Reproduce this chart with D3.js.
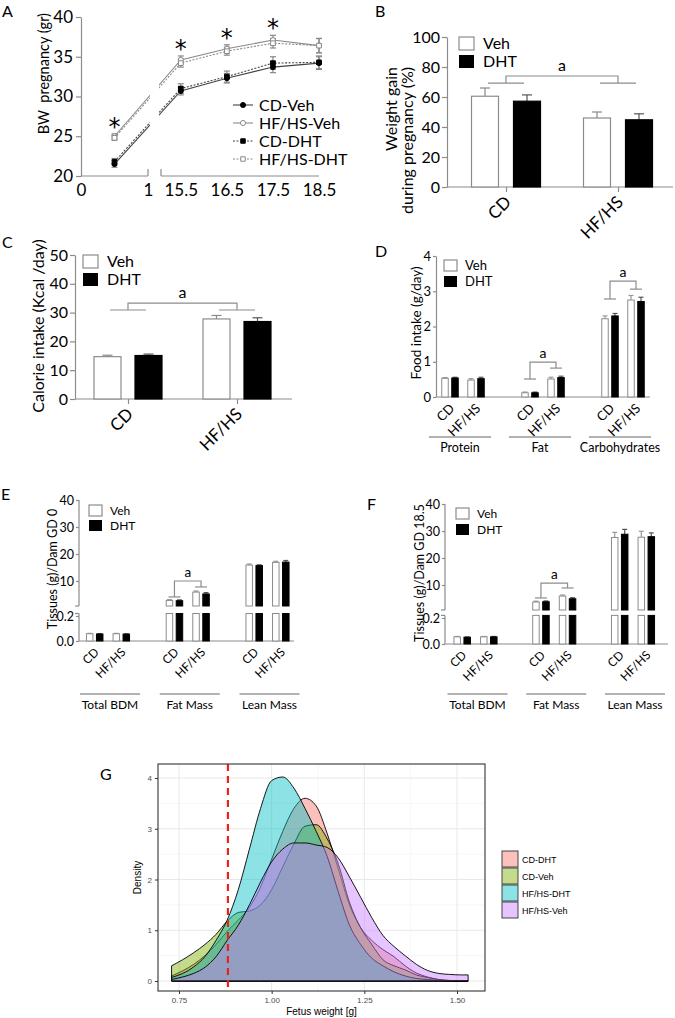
<!DOCTYPE html>
<html><head><meta charset="utf-8">
<script src="https://cdn.jsdelivr.net/npm/d3@7"></script>
<style>body{margin:0;background:#fff} svg{display:block}</style>
</head><body><svg id="c" width="675" height="1018"></svg>
<script>
// ---------- DATA ----------
// Panel A
const daysA = [0.5, 15.5, 16.5, 17.5, 18.5];
const xTicksA = [0, 1, 15.5, 16.5, 17.5, 18.5];
const yTicksA = [20, 25, 30, 35, 40];
const bwCDVeh = [21.5, 30.7, 32.3, 33.7, 34.2];
const bwHFVeh = [25.0, 34.6, 36.0, 37.1, 36.4];
const bwCDDHT = [21.8, 31.0, 32.5, 34.2, 34.3];
const bwHFDHT = [24.8, 34.2, 35.7, 36.7, 36.4];
const bwErrCDVeh = [0.4, 0.5, 0.6, 0.7, 0.8];
const bwErrHFVeh = [0.3, 0.5, 0.5, 0.6, 0.9];
const bwErrCDDHT = [0.4, 0.6, 0.7, 0.8, 0.8];
const bwErrHFDHT = [0.3, 0.5, 0.5, 0.6, 0.9];
const starDaysA = [0.5, 15.5, 16.5, 17.5];
const seriesNamesA = ["CD-Veh", "HF/HS-Veh", "CD-DHT", "HF/HS-DHT"];
// Panels B, C
const diets = ["CD", "HF/HS"];
const treatments = ["Veh", "DHT"];
const yTicksB = [0, 20, 40, 60, 80, 100];
const gainVeh = [60.5, 46.0];
const gainVehErr = [5.5, 4.0];
const gainDHT = [57.2, 44.8];
const gainDHTErr = [4.2, 4.0];
const yTicksC = [0, 10, 20, 30, 40, 50];
const calVeh = [14.7, 27.8];
const calVehErr = [0.5, 1.2];
const calDHT = [15.1, 26.9];
const calDHTErr = [0.5, 1.3];
// Panel D
const nutrients = ["Protein", "Fat", "Carbohydrates"];
const yTicksD = [0, 1, 2, 3, 4];
const foodCDVeh = [0.53, 0.12, 2.22];
const foodCDDHT = [0.54, 0.12, 2.30];
const foodHFVeh = [0.48, 0.51, 2.75];
const foodHFDHT = [0.52, 0.55, 2.71];
const foodCDVehErr = [0.02, 0.02, 0.08];
const foodCDDHTErr = [0.02, 0.02, 0.07];
const foodHFVehErr = [0.04, 0.05, 0.13];
const foodHFDHTErr = [0.04, 0.04, 0.12];
// Panels E, F
const tissues = ["Total BDM", "Fat Mass", "Lean Mass"];
const yTicksUpper = [10, 20, 30, 40];
const yTicksLower = [0.0, 0.2];
const gd0CDVeh = [0.058, 2.8, 15.9];
const gd0CDDHT = [0.056, 2.7, 15.7];
const gd0HFVeh = [0.058, 5.9, 16.9];
const gd0HFDHT = [0.055, 5.2, 17.0];
const gd0CDVehErr = [0.003, 0.3, 0.4];
const gd0CDDHTErr = [0.003, 0.3, 0.3];
const gd0HFVehErr = [0.003, 0.4, 0.4];
const gd0HFDHTErr = [0.003, 0.5, 0.6];
const gd18CDVeh = [0.055, 3.7, 27.6];
const gd18CDDHT = [0.052, 3.8, 28.8];
const gd18HFVeh = [0.055, 5.9, 27.7];
const gd18HFDHT = [0.055, 4.9, 27.9];
const gd18CDVehErr = [0.003, 0.3, 1.9];
const gd18CDDHTErr = [0.003, 0.3, 1.8];
const gd18HFVehErr = [0.003, 0.4, 2.2];
const gd18HFDHTErr = [0.003, 0.4, 1.4];
// Panel G
const groupsG = ["CD-DHT", "CD-Veh", "HF/HS-DHT", "HF/HS-Veh"];
const colorsG = ["#F8766D", "#7CAE00", "#00BFC4", "#C77CFF"];
const xTicksG = [0.75, 1.00, 1.25, 1.50];
const yTicksG = [0, 1, 2, 3, 4];
const densX =      [0.73,0.76,0.79,0.82,0.85,0.88,0.91,0.94,0.97,1.00,1.03,1.06,1.09,1.12,1.15,1.18,1.21,1.24,1.27,1.30,1.33,1.36,1.39,1.42,1.45,1.48,1.51,1.53];
const densCDDHT =  [0.10,0.20,0.33,0.50,0.72,0.98,1.20,1.45,1.85,2.40,2.95,3.40,3.60,3.45,2.90,2.20,1.50,1.05,0.80,0.62,0.48,0.30,0.16,0.08,0.03,0.01,0.00,0.00];
const densCDVeh =  [0.30,0.42,0.56,0.72,0.92,1.18,1.35,1.38,1.50,1.80,2.25,2.70,3.05,3.08,2.80,2.30,1.55,1.05,0.72,0.42,0.30,0.22,0.12,0.07,0.03,0.01,0.00,0.00];
const densHFDHT =  [0.07,0.15,0.28,0.48,0.80,1.20,1.80,2.60,3.40,3.95,4.02,3.80,3.40,2.95,2.45,1.75,1.10,0.72,0.45,0.30,0.18,0.10,0.05,0.03,0.01,0.00,0.00,0.00];
const densHFVeh =  [0.03,0.08,0.15,0.27,0.48,0.80,1.10,1.50,1.95,2.35,2.60,2.72,2.72,2.68,2.63,2.42,2.05,1.65,1.25,0.90,0.68,0.50,0.33,0.21,0.15,0.13,0.12,0.12];
const cutoffG = 0.882;

// ---------- DRAWING ----------
const svg = d3.select("#c");
const AX = "#8c8c8c";
const FONT = "Lato, 'Open Sans', sans-serif";
const GFONT = "'Liberation Sans', Arial, sans-serif";

function styleAxis(g, size) {
  g.attr("font-family", FONT).attr("font-size", size);
  g.select(".domain").attr("stroke", AX).attr("stroke-width", 1.2);
  g.selectAll(".tick line").attr("stroke", AX).attr("stroke-width", 1.2);
  g.selectAll(".tick text").attr("fill", "#000");
}
function txt(g, x, y, s, size, opts = {}) {
  const t = g.append("text").attr("x", x).attr("y", y).text(s)
    .attr("font-family", opts.family || FONT).attr("font-size", size)
    .attr("fill", opts.fill || "#000").attr("text-anchor", opts.anchor || "start");
  if (opts.rotate) t.attr("transform", `rotate(${opts.rotate},${x},${y})`);
  if (opts.pre) t.style("white-space", "pre");
  return t;
}
function ylabel(g, x, y, s, size, anchor) { return txt(g, x, y, s, size, {anchor: anchor || "middle", rotate: -90, pre: true}); }
function rotLabel(g, x, y, s, size) {
  g.append("text").attr("transform", `translate(${x},${y}) rotate(-45)`).attr("dy", "0.35em")
    .attr("text-anchor", "end").attr("font-family", FONT).attr("font-size", size).text(s);
}
function legendBoxes(g, x, y1, y2, w, h, tx, size) {
  g.append("rect").attr("x", x).attr("y", y1).attr("width", w).attr("height", h).attr("fill", "#fff").attr("stroke", AX).attr("stroke-width", 1.2);
  g.append("rect").attr("x", x).attr("y", y2).attr("width", w).attr("height", h).attr("fill", "#000");
  txt(g, tx, y1 + h - 1, treatments[0], size);
  txt(g, tx, y2 + h - 1, treatments[1], size);
}
function errBar(g, x, yv, ye, cap, color) {
  g.append("line").attr("x1", x).attr("x2", x).attr("y1", yv).attr("y2", ye).attr("stroke", color).attr("stroke-width", 1.2);
  g.append("line").attr("x1", x - cap).attr("x2", x + cap).attr("y1", ye).attr("y2", ye).attr("stroke", color).attr("stroke-width", 1.2);
}

// ===== Panel A =====
(function () {
  const g = svg.append("g");
  const xA = d3.scaleLinear().domain([0, 1, 15.07, 18.5]).range([81, 148, 161, 319]);
  const yA = d3.scaleLinear().domain([20, 40]).range([176, 17]);
  txt(g, 2, 17, "A", 16);
  g.append("g").attr("transform", "translate(81,0)")
    .call(d3.axisLeft(yA).tickValues(yTicksA).tickSize(5).tickSizeOuter(0).tickPadding(3).tickFormat(d3.format("d")))
    .call(styleAxis, 17);
  const xg = g.append("g").attr("transform", "translate(0,176)")
    .call(d3.axisBottom(xA).tickValues(xTicksA).tickSize(0).tickPadding(8).tickFormat(d3.format("")))
    .call(styleAxis, 17);
  xg.select(".domain").remove();
  [[0, 1], [15.07, 18.5]].forEach(([a, b]) => {
    g.append("line").attr("x1", xA(a)).attr("x2", xA(b)).attr("y1", 176).attr("y2", 176).attr("stroke", AX).attr("stroke-width", 1.2);
  });
  [1, 15.07].forEach(v => g.append("line").attr("x1", xA(v)).attr("x2", xA(v)).attr("y1", 169).attr("y2", 176).attr("stroke", AX).attr("stroke-width", 1.2));
  ylabel(g, 49, 13, "BW  pregnancy (gr)", 14.5, "end");

  const series = [
    {name: seriesNamesA[0], v: bwCDVeh, e: bwErrCDVeh, filled: true, sym: d3.symbolCircle, dash: null, col: "#444"},
    {name: seriesNamesA[1], v: bwHFVeh, e: bwErrHFVeh, filled: false, sym: d3.symbolCircle, dash: null, col: "#8a8a8a"},
    {name: seriesNamesA[2], v: bwCDDHT, e: bwErrCDDHT, filled: true, sym: d3.symbolSquare, dash: "2,1.5", col: "#444"},
    {name: seriesNamesA[3], v: bwHFDHT, e: bwErrHFDHT, filled: false, sym: d3.symbolSquare, dash: "2,1.5", col: "#8a8a8a"}
  ];
  const line = d3.line().x((d, i) => xA(daysA[i])).y(d => yA(d));
  series.forEach(s => {
    g.append("path").attr("d", line(s.v)).attr("fill", "none").attr("stroke", s.col).attr("stroke-width", 1.1)
      .attr("stroke-dasharray", s.dash);
  });
  // break gap mask
  g.append("rect").attr("x", xA(1) + 2).attr("y", 17).attr("width", xA(15.07) - xA(1) - 4).attr("height", 150).attr("fill", "#fff");
  series.forEach(s => {
    s.v.forEach((v, i) => {
      const x = xA(daysA[i]);
      errBar(g, x, yA(v), yA(v + s.e[i]), 3, "#888");
      errBar(g, x, yA(v), yA(v - s.e[i]), 3, "#888");
    });
  });
  series.forEach(s => {
    s.v.forEach((v, i) => {
      g.append("path").attr("d", d3.symbol(s.sym, s.sym === d3.symbolSquare ? 22 : 20)())
        .attr("transform", `translate(${xA(daysA[i])},${yA(v)})`)
        .attr("fill", s.filled ? "#000" : "#fff").attr("stroke", s.filled ? "#000" : "#888").attr("stroke-width", 1);
    });
  });
  starDaysA.forEach(d => {
    const i = daysA.indexOf(d);
    const top = d3.max(series, s => s.v[i] + s.e[i]);
    txt(g, xA(d), yA(top) + 1, "*", 24, {anchor: "middle", family: "'DejaVu Sans', sans-serif"});
  });
  // legend
  series.forEach((s, k) => {
    const y = 105 + k * 18;
    g.append("line").attr("x1", 233).attr("x2", 253).attr("y1", y).attr("y2", y).attr("stroke", s.col).attr("stroke-width", 1.1).attr("stroke-dasharray", s.dash);
    g.append("path").attr("d", d3.symbol(s.sym, 20)()).attr("transform", `translate(243,${y})`)
      .attr("fill", s.filled ? "#000" : "#fff").attr("stroke", s.filled ? "#000" : "#888");
    txt(g, 259, y + 6, s.name, 16);
  });
})();

// ===== simple bar panels B and C =====
function simpleBars(o) {
  const g = svg.append("g");
  const x0 = d3.scalePoint().domain(diets).range(o.centers);
  const xT = d3.scalePoint().domain(treatments).range([-o.off, o.off]);
  const y = d3.scaleLinear().domain([0, o.ymax]).range([o.y0, o.y1]);
  g.append("g").attr("transform", `translate(${o.axisX},0)`)
    .call(d3.axisLeft(y).tickValues(o.ticks).tickSize(5).tickSizeOuter(0).tickPadding(2).tickFormat(d3.format("d")))
    .call(styleAxis, o.fs);
  const xg = g.append("g").attr("transform", `translate(0,${o.y0})`)
    .call(d3.axisBottom(x0).tickSize(5).tickSizeOuter(0).tickFormat(""))
    .call(styleAxis, o.fs);
  xg.select(".domain").attr("d", `M${o.axisX},0H${o.axisEnd}`);
  const vals = [o.veh, o.dht], errs = [o.vehErr, o.dhtErr];
  treatments.forEach((t, ti) => {
    diets.forEach((d, di) => {
      const cx = x0(d) + xT(t), v = vals[ti][di];
      errBar(g, cx, y(v), y(v + errs[ti][di]), 5, ti === 0 ? "#888" : "#555");
      g.append("rect").attr("x", cx - o.bw / 2).attr("y", y(v)).attr("width", o.bw).attr("height", y(0) - y(v))
        .attr("fill", ti === 0 ? "#fff" : "#000").attr("stroke", ti === 0 ? "#8c8c8c" : "#000").attr("stroke-width", 1.2);
    });
  });
  diets.forEach(d => rotLabel(g, x0(d) + 2, o.y0 + 12, d, o.fs + 1));
  // bracket
  const bl = y(o.brLow), bh = y(o.brHigh);
  diets.forEach(d => g.append("line").attr("x1", x0(d) - 18).attr("x2", x0(d) + 18).attr("y1", bl).attr("y2", bl).attr("stroke", AX).attr("stroke-width", 1.2));
  g.append("path").attr("d", `M${x0(diets[0])},${bl}V${bh}H${x0(diets[1])}V${bl}`).attr("fill", "none").attr("stroke", AX).attr("stroke-width", 1.2);
  txt(g, (x0(diets[0]) + x0(diets[1])) / 2, bh - 5, "a", o.fs, {anchor: "middle"});
  legendBoxes(g, o.lx, o.ly1, o.ly2, 15, 13, o.lx + 24, o.fs);
  o.ylab.forEach(l => ylabel(g, l[0], l[1], l[2], o.fs, l[3]));
  txt(g, o.letter[0], o.letter[1], o.letter[2], 16);
}
simpleBars({centers: [506, 618], off: 21, bw: 27, ymax: 100, y0: 187, y1: 37, axisX: 447, axisEnd: 673, ticks: yTicksB,
  veh: gainVeh, vehErr: gainVehErr, dht: gainDHT, dhtErr: gainDHTErr, brLow: 69.3, brHigh: 74, fs: 16,
  lx: 459, ly1: 37, ly2: 55, ylab: [[397, 67, "Weight gain", "end"], [413, 67, "during pregnancy (%)", "end"]], letter: [375, 17, "B"]});
simpleBars({centers: [128, 237], off: 20.5, bw: 27, ymax: 50, y0: 399, y1: 255, axisX: 75, axisEnd: 292, ticks: yTicksC,
  veh: calVeh, vehErr: calVehErr, dht: calDHT, dhtErr: calDHTErr, brLow: 30.9, brHigh: 33.3, fs: 16,
  lx: 83, ly1: 255, ly2: 273, ylab: [[44, 326, "Calorie intake (Kcal /day)"]], letter: [2, 248, "C"]});

// ===== nested bar panels D, E, F =====
function nestedBars(o) {
  const g = svg.append("g");
  const xN = d3.scalePoint().domain(o.groups).range(o.groupRange);
  const xD = d3.scalePoint().domain(diets).range([-o.dOff, o.dOff]);
  const xT = d3.scalePoint().domain(treatments).range([-5, 5]);
  const bw = 6.5;
  let yOf;
  if (o.broken) {
    const yl = d3.scaleLinear().domain([0, 0.2]).range([o.y0, o.lower02]);
    const yu = d3.scaleLinear().domain([0, 40]).range([o.upper0, o.upper40]);
    yOf = v => v <= 0.22 ? yl(v) : yu(v);
    g.append("g").attr("transform", `translate(${o.axisX},0)`)
      .call(d3.axisLeft(yl).tickValues(yTicksLower).tickSize(3).tickSizeOuter(0).tickPadding(2).tickFormat(d3.format(".1f")))
      .call(styleAxis, o.fs).select(".domain").attr("d", `M0,${o.y0}V${yl(0.22)}`);
    g.append("g").attr("transform", `translate(${o.axisX},0)`)
      .call(d3.axisLeft(yu).tickValues(yTicksUpper).tickSize(3).tickSizeOuter(0).tickPadding(2).tickFormat(d3.format("d")))
      .call(styleAxis, o.fs).select(".domain").attr("d", `M0,${o.upperBot}V${yu(40)}`);
    g.append("line").attr("x1", o.axisX - 4).attr("x2", o.axisX).attr("y1", o.upperBot).attr("y2", o.upperBot).attr("stroke", AX).attr("stroke-width", 1.2);
    g.append("line").attr("x1", o.axisX - 4).attr("x2", o.axisX).attr("y1", yl(0.22)).attr("y2", yl(0.22)).attr("stroke", AX).attr("stroke-width", 1.2);
    o.yu = yu; o.yl = yl;
  } else {
    const y = d3.scaleLinear().domain([0, 4]).range([o.y0, o.y1]);
    yOf = y;
    g.append("g").attr("transform", `translate(${o.axisX},0)`)
      .call(d3.axisLeft(y).tickValues(yTicksD).tickSize(3).tickSizeOuter(0).tickPadding(2).tickFormat(d3.format("d")))
      .call(styleAxis, o.fs);
  }
  g.append("line").attr("x1", o.axisX).attr("x2", o.axisEnd).attr("y1", o.y0).attr("y2", o.y0).attr("stroke", AX).attr("stroke-width", 1.2);
  const vals = [[o.cdVeh, o.cdDHT], [o.hfVeh, o.hfDHT]];
  const errs = [[o.cdVehE, o.cdDHTE], [o.hfVehE, o.hfDHTE]];
  o.groups.forEach((n, ni) => {
    diets.forEach((d, di) => {
      treatments.forEach((t, ti) => {
        const cx = xN(n) + xD(d) + xT(t), v = vals[di][ti][ni], e = errs[di][ti][ni];
        const fill = ti === 0 ? "#fff" : "#000", stroke = ti === 0 ? "#8c8c8c" : "#000";
        const ec = ti === 0 ? "#999" : "#555";
        errBar(g, cx, yOf(v), yOf(v + e), 2.5, ec);
        if (o.broken && v > 0.22) {
          g.append("rect").attr("x", cx - bw / 2).attr("y", o.yl(0.22)).attr("width", bw).attr("height", o.y0 - o.yl(0.22)).attr("fill", fill).attr("stroke", stroke).attr("stroke-width", 1);
          g.append("rect").attr("x", cx - bw / 2).attr("y", yOf(v)).attr("width", bw).attr("height", o.upperBot - yOf(v)).attr("fill", fill).attr("stroke", stroke).attr("stroke-width", 1);
        } else {
          g.append("rect").attr("x", cx - bw / 2).attr("y", yOf(v)).attr("width", bw).attr("height", o.y0 - yOf(v)).attr("fill", fill).attr("stroke", stroke).attr("stroke-width", 1);
        }
      });
      rotLabel(g, xN(n) + xD(d) + 2, o.y0 + 9, d, o.rfs);
    });
    const lc = xN(n) + o.lineShift;
    g.append("line").attr("x1", lc - o.lineW / 2).attr("x2", lc + o.lineW / 2).attr("y1", o.lineY).attr("y2", o.lineY).attr("stroke", "#999").attr("stroke-width", 1.3);
    txt(g, lc, o.lineY + 15, n, o.gfs, {anchor: "middle"});
  });
  // brackets
  o.brackets.forEach(b => {
    const xl = xN(b.group) + xD(diets[0]), xr = xN(b.group) + xD(diets[1]);
    const yL = yOf(b.left), yR = yOf(b.right), yH = yOf(b.top);
    g.append("path").attr("d", `M${xl},${yL}V${yH}H${xr}V${yR}`).attr("fill", "none").attr("stroke", AX).attr("stroke-width", 1.2);
    g.append("line").attr("x1", xl - 6).attr("x2", xl + 6).attr("y1", yL).attr("y2", yL).attr("stroke", AX).attr("stroke-width", 1.2);
    g.append("line").attr("x1", xr - 6).attr("x2", xr + 6).attr("y1", yR).attr("y2", yR).attr("stroke", AX).attr("stroke-width", 1.2);
    txt(g, (xl + xr) / 2, yH - 4, "a", o.fs + 1, {anchor: "middle"});
  });
  legendBoxes(g, o.lx, o.ly1, o.ly2, 13, 11, o.lx + 21, o.lfs);
  ylabel(g, o.ylab[0], o.ylab[1], o.ylab[2], o.yfs);
  txt(g, o.letter[0], o.letter[1], o.letter[2], 16);
}
nestedBars({groups: nutrients, groupRange: [463, 623], dOff: 13, y0: 397, y1: 256, axisX: 436, axisEnd: 650, fs: 13, rfs: 13, gfs: 12.5, lfs: 13, yfs: 13.5,
  cdVeh: foodCDVeh, cdDHT: foodCDDHT, hfVeh: foodHFVeh, hfDHT: foodHFDHT,
  cdVehE: foodCDVehErr, cdDHTE: foodCDDHTErr, hfVehE: foodHFVehErr, hfDHTE: foodHFDHTErr,
  lineY: 437, lineW: 62, lineShift: -3,
  brackets: [{group: "Fat", left: 0.51, right: 0.82, top: 0.99}, {group: "Carbohydrates", left: 2.78, right: 3.06, top: 3.29}],
  lx: 444, ly1: 260, ly2: 276, ylab: [421, 323, "Food intake (g/day)"], letter: [375, 257, "D"]});
nestedBars({groups: tissues, groupRange: [108, 267.5], dOff: 13.3, broken: true, y0: 641, lower02: 616, upper0: 608, upper40: 500, upperBot: 606,
  axisX: 79, axisEnd: 294, fs: 12.5, rfs: 12, gfs: 12, lfs: 12, yfs: 12.5,
  cdVeh: gd0CDVeh, cdDHT: gd0CDDHT, hfVeh: gd0HFVeh, hfDHT: gd0HFDHT,
  cdVehE: gd0CDVehErr, cdDHTE: gd0CDDHTErr, hfVehE: gd0HFVehErr, hfDHTE: gd0HFDHTErr,
  lineY: 694, lineW: 60, lineShift: 2,
  brackets: [{group: "Fat Mass", left: 4.1, right: 7.8, top: 10.0}],
  lx: 89, ly1: 505, ly2: 520, ylab: [57, 569, "Tissues (g)/Dam GD 0"], letter: [1, 500, "E"]});
nestedBars({groups: tissues, groupRange: [475.5, 633], dOff: 13.3, broken: true, y0: 644, lower02: 618, upper0: 612, upper40: 504, upperBot: 610,
  axisX: 445, axisEnd: 668, fs: 12.5, rfs: 12, gfs: 12, lfs: 12, yfs: 12.5,
  cdVeh: gd18CDVeh, cdDHT: gd18CDDHT, hfVeh: gd18HFVeh, hfDHT: gd18HFDHT,
  cdVehE: gd18CDVehErr, cdDHTE: gd18CDDHTErr, hfVehE: gd18HFVehErr, hfDHTE: gd18HFDHTErr,
  lineY: 694, lineW: 60, lineShift: 2,
  brackets: [{group: "Fat Mass", left: 5.2, right: 8.9, top: 10.7}],
  lx: 456, ly1: 508, ly2: 524, ylab: [424, 573, "Tissues (g)/Dam GD 18.5"], letter: [367, 510, "F"]});

// ===== Panel G =====
(function () {
  const g = svg.append("g");
  const L = 158, R = 485, T = 764, B = 991;
  const xG = d3.scaleLinear().domain([0.75, 1.5]).range([179, 457]);
  const yG = d3.scaleLinear().domain([0, 4]).range([981, 778]);
  txt(g, 100, 780, "G", 16);
  // grid
  const minorX = [0.875, 1.125, 1.375], minorY = [0.5, 1.5, 2.5, 3.5];
  minorX.forEach(v => g.append("line").attr("x1", xG(v)).attr("x2", xG(v)).attr("y1", T).attr("y2", B).attr("stroke", "#f2f2f2").attr("stroke-width", 0.6));
  minorY.forEach(v => g.append("line").attr("x1", L).attr("x2", R).attr("y1", yG(v)).attr("y2", yG(v)).attr("stroke", "#f2f2f2").attr("stroke-width", 0.6));
  xTicksG.forEach(v => g.append("line").attr("x1", xG(v)).attr("x2", xG(v)).attr("y1", T).attr("y2", B).attr("stroke", "#e8e8e8").attr("stroke-width", 1));
  yTicksG.forEach(v => g.append("line").attr("x1", L).attr("x2", R).attr("y1", yG(v)).attr("y2", yG(v)).attr("stroke", "#e8e8e8").attr("stroke-width", 1));
  const dens = [densCDDHT, densCDVeh, densHFDHT, densHFVeh];
  const area = d3.area().x((d, i) => xG(densX[i])).y0(yG(0)).y1(d => yG(d)).curve(d3.curveMonotoneX);
  dens.forEach((arr, k) => {
    g.append("path").attr("d", area(arr) + "Z").attr("fill", colorsG[k]).attr("fill-opacity", 0.45)
      .attr("stroke", "#000").attr("stroke-width", 0.9).attr("stroke-linejoin", "round");
  });
  g.append("line").attr("x1", xG(cutoffG)).attr("x2", xG(cutoffG)).attr("y1", T).attr("y2", B)
    .attr("stroke", "#e8231d").attr("stroke-width", 2.2).attr("stroke-dasharray", "7,5");
  g.append("rect").attr("x", L).attr("y", T).attr("width", R - L).attr("height", B - T).attr("fill", "none").attr("stroke", "#333").attr("stroke-width", 1.1);
  const ax = g.append("g").attr("transform", `translate(0,${B})`).call(d3.axisBottom(xG).tickValues(xTicksG).tickSize(3).tickFormat(d3.format(".2f")));
  ax.select(".domain").remove();
  ax.attr("font-family", GFONT).attr("font-size", 8).selectAll("text").attr("fill", "#4d4d4d");
  ax.selectAll(".tick line").attr("stroke", "#333");
  const ay = g.append("g").attr("transform", `translate(${L},0)`).call(d3.axisLeft(yG).tickValues(yTicksG).tickSize(3).tickFormat(d3.format("d")));
  ay.select(".domain").remove();
  ay.attr("font-family", GFONT).attr("font-size", 8).selectAll("text").attr("fill", "#4d4d4d");
  ay.selectAll(".tick line").attr("stroke", "#333");
  txt(g, (L + R) / 2, 1015, "Fetus weight [g]", 10, {anchor: "middle", family: GFONT});
  txt(g, 141, (T + B) / 2, "Density", 10, {anchor: "middle", family: GFONT, rotate: -90});
  groupsG.forEach((name, k) => {
    const y = 851 + k * 17;
    g.append("rect").attr("x", 502).attr("y", y).attr("width", 16).attr("height", 16).attr("fill", "#fff");
    g.append("rect").attr("x", 502).attr("y", y).attr("width", 16).attr("height", 16).attr("fill", colorsG[k]).attr("fill-opacity", 0.45).attr("stroke", "#333").attr("stroke-width", 0.9);
    txt(g, 522, y + 11.5, name, 9, {family: GFONT});
  });
})();
</script></body></html>
